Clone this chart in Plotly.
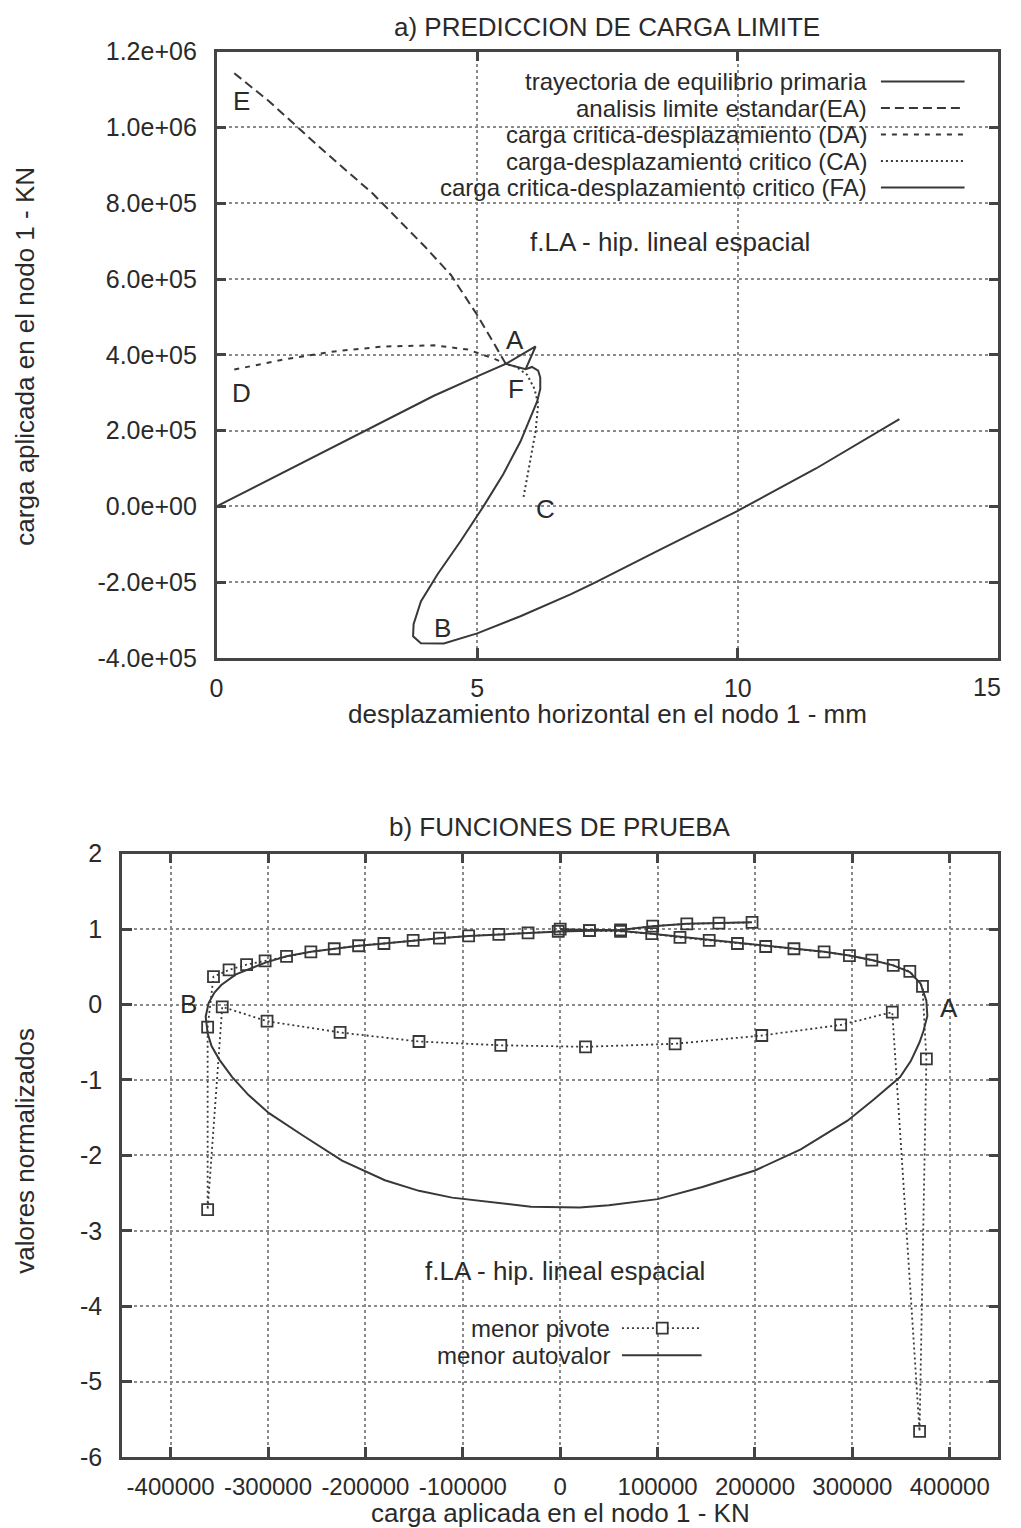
import plotly.graph_objects as go

# figure size and mapping from target picture pixels (x, y) to figure pixels
W, H = 1005, 1545
AX, SX = 4.6, 0.997
AY, SY = 12.3, 0.983

# ---------------- a) top chart data ----------------
prim_x = [0.0, 1.0, 2.0, 3.0, 4.17, 5.0, 5.55, 5.93, 6.05, 6.17, 6.21, 6.21, 6.15, 5.83, 5.5, 5.12,
          4.68, 4.24, 3.92, 3.78, 3.77, 3.92, 4.36, 5.0, 5.83, 6.79, 7.23, 8.5, 9.98, 11.5, 13.1]
prim_y = [0.0, 0.70e5, 1.40e5, 2.08e5, 2.92e5, 3.43e5, 3.76e5, 3.62e5, 3.68e5, 3.58e5, 3.40e5, 3.10e5,
          2.77e5, 1.71e5, 0.85e5, 0.0, -0.92e5, -1.79e5, -2.51e5, -3.11e5, -3.43e5, -3.61e5, -3.62e5,
          -3.35e5, -2.90e5, -2.32e5, -2.03e5, -1.15e5, -0.13e5, 1.0e5, 2.3e5]

ea_x = [0.34, 1.0, 2.0, 3.0, 3.5, 4.0, 4.5, 5.0, 5.3, 5.55]
ea_y = [1.143e6, 1.07e6, 9.45e5, 8.25e5, 7.55e5, 6.85e5, 6.1e5, 5.05e5, 4.35e5, 3.76e5]

da_x = [0.34, 1.3, 2.26, 3.21, 4.17, 4.82, 5.32, 5.55]
da_y = [3.61e5, 3.88e5, 4.09e5, 4.22e5, 4.25e5, 4.14e5, 3.90e5, 3.76e5]

ca_x = [5.89, 6.0, 6.12, 6.17, 6.10, 5.96, 5.75, 5.55]
ca_y = [0.25e5, 1.10e5, 1.98e5, 2.70e5, 3.10e5, 3.47e5, 3.68e5, 3.76e5]

fa_x = [5.93, 6.12, 5.55]
fa_y = [3.62e5, 4.22e5, 3.76e5]

top_yticks = [-4e5, -2e5, 0, 2e5, 4e5, 6e5, 8e5, 1e6, 1.2e6]
top_yticktext = ["-4.0e+05", "-2.0e+05", "0.0e+00", "2.0e+05", "4.0e+05",
                 "6.0e+05", "8.0e+05", "1.0e+06", "1.2e+06"]
top_xticks = [0, 5, 10, 15]
top_xticktext = ["0", "5", "10", ""]   # the last label ("15") is drawn at the right edge below

top_names = ["trayectoria de equilibrio primaria", "analisis limite estandar(EA)",
             "carga critica-desplazamiento (DA)", "carga-desplazamiento critico (CA)",
             "carga critica-desplazamiento critico (FA)"]

# ---------------- b) bottom chart data ----------------
piv_x = [0, 30000, 62000, 94000, 123000, 153000, 182000, 211000, 240000, 271000, 297000, 320000,
         342000, 359000, 372000, 376000, 369000, 341000, 288000, 207000, 118000, 26000, -61000,
         -145000, -226000, -301000, -347000, -362000, -362000, -356000, -340000, -322000, -303000,
         -281000, -256000, -232000, -207000, -181000, -151000, -124000, -94000, -63000, -33000,
         -2000, 30000, 62000, 95000, 130000, 163000, 197000]
piv_y = [1.0, 0.98, 0.97, 0.94, 0.89, 0.85, 0.81, 0.77, 0.74, 0.70, 0.65, 0.59, 0.52, 0.44, 0.24,
         -0.72, -5.66, -0.10, -0.27, -0.41, -0.52, -0.56, -0.54, -0.49, -0.37, -0.22, -0.03,
         -2.72, -0.30, 0.37, 0.46, 0.53, 0.58, 0.64, 0.70, 0.74, 0.78, 0.81, 0.85, 0.88, 0.91,
         0.93, 0.95, 0.97, 0.98, 0.99, 1.04, 1.07, 1.08, 1.09]

eig_x = [0, 60000, 94000, 123000, 156000, 186000, 215000, 244000, 271000, 297000, 320000, 342000,
         359000, 370000, 376000, 377000, 373000, 369000, 360000, 349000, 322000, 295000, 247000,
         200000, 146000, 100000, 50000, 20000, -30000, -111000, -145000, -180000, -224000, -265000,
         -299000, -320000, -337000, -350000, -358000, -362000, -364000, -361000, -355000, -348000,
         -333000, -302000, -281000, -256000, -232000, -207000, -181000, -151000, -124000, -94000,
         -63000, -33000, 0, 30000, 62000, 95000, 130000, 163000, 197000]
eig_y = [1.0, 0.98, 0.94, 0.90, 0.86, 0.82, 0.78, 0.74, 0.70, 0.65, 0.59, 0.52, 0.43, 0.28, 0.05,
         -0.15, -0.35, -0.50, -0.75, -0.96, -1.26, -1.54, -1.92, -2.20, -2.42, -2.58, -2.66, -2.69,
         -2.68, -2.56, -2.47, -2.33, -2.07, -1.73, -1.44, -1.20, -0.96, -0.73, -0.55, -0.38, -0.16,
         0.02, 0.16, 0.26, 0.40, 0.56, 0.64, 0.70, 0.74, 0.78, 0.81, 0.85, 0.88, 0.91, 0.93, 0.95,
         0.97, 0.98, 0.99, 1.04, 1.07, 1.08, 1.09]

bot_xticks = [-400000, -300000, -200000, -100000, 0, 100000, 200000, 300000, 400000]
bot_yticks = [-6, -5, -4, -3, -2, -1, 0, 1, 2]
bot_names = ["menor pivote", "menor autovalor"]

# ---------------- styling ----------------
LC = "#383838"
TXT = "#2a2a2a"
FONT = "Liberation Sans, Arial, Helvetica, sans-serif"
TICKF = 25
BXTICKF = 24
LABF = 26
LEGF = 24


def px(x):
    """target picture pixel x -> paper fraction"""
    return ((x - AX) / SX) / W


def py(y):
    """target picture pixel y -> paper fraction"""
    return 1 - ((y - AY) / SY) / H


fig = go.Figure()

fig.add_trace(go.Scatter(x=prim_x, y=prim_y, mode="lines", name=top_names[0],
                         line=dict(color=LC, width=2), xaxis="x", yaxis="y"))
fig.add_trace(go.Scatter(x=ea_x, y=ea_y, mode="lines", name=top_names[1],
                         line=dict(color=LC, width=2, dash="9px,5px"), xaxis="x", yaxis="y"))
fig.add_trace(go.Scatter(x=da_x, y=da_y, mode="lines", name=top_names[2],
                         line=dict(color=LC, width=2, dash="5px,6px"), xaxis="x", yaxis="y"))
fig.add_trace(go.Scatter(x=ca_x, y=ca_y, mode="lines", name=top_names[3],
                         line=dict(color=LC, width=2, dash="2px,3px"), xaxis="x", yaxis="y"))
fig.add_trace(go.Scatter(x=fa_x, y=fa_y, mode="lines", name=top_names[4],
                         line=dict(color=LC, width=2), xaxis="x", yaxis="y"))

fig.add_trace(go.Scatter(x=piv_x, y=piv_y, mode="lines+markers", name=bot_names[0],
                         line=dict(color=LC, width=1.8, dash="2px,3px"),
                         marker=dict(symbol="square-open", size=11, color=LC, line=dict(width=1.8)),
                         xaxis="x2", yaxis="y2"))
fig.add_trace(go.Scatter(x=eig_x, y=eig_y, mode="lines", name=bot_names[1],
                         line=dict(color=LC, width=2), xaxis="x2", yaxis="y2"))

axis_common = dict(showline=True, mirror="allticks", linecolor="#444", linewidth=2.5,
                   ticks="inside", ticklen=10, tickwidth=2.5, tickcolor="#444",
                   showgrid=True, gridcolor="#8a8a8a", gridwidth=1.6, griddash="dot",
                   zeroline=False)
tfont = dict(family=FONT, size=TICKF, color=TXT)

fig.update_layout(
    width=W, height=H, margin=dict(l=0, r=0, t=0, b=0),
    paper_bgcolor="white", plot_bgcolor="white", showlegend=False,
    font=dict(family=FONT, size=LABF, color=TXT),
    xaxis=dict(domain=[px(215), px(1000)], range=[0, 15], tickvals=top_xticks,
               ticktext=top_xticktext, anchor="y", tickfont=tfont, ticklabelstandoff=6,
               **axis_common),
    yaxis=dict(domain=[py(657), py(50)], range=[-4e5, 1.2e6], tickvals=top_yticks,
               ticktext=top_yticktext, anchor="x", tickfont=tfont, ticklabelstandoff=12,
               **axis_common),
    xaxis2=dict(domain=[px(120), px(1000)], range=[-450000, 450000], tickvals=bot_xticks,
                ticktext=[str(v) for v in bot_xticks], anchor="y2",
                tickfont=dict(family=FONT, size=BXTICKF, color=TXT),
                ticklabelstandoff=6, **axis_common),
    yaxis2=dict(domain=[py(1457), py(853)], range=[-6, 2], tickvals=bot_yticks,
                ticktext=[str(v) for v in bot_yticks], anchor="x2", tickfont=tfont,
                ticklabelstandoff=12, **axis_common),
)

ann = []


def paper_text(text, x, y, size=LABF, xanchor="center", angle=0):
    ann.append(dict(text=text, x=px(x), y=py(y), xref="paper", yref="paper", showarrow=False,
                    xanchor=xanchor, yanchor="middle", textangle=angle,
                    font=dict(family=FONT, size=size, color=TXT)))


paper_text("a) PREDICCION DE CARGA LIMITE", 607, 25)
paper_text("desplazamiento horizontal en el nodo 1 - mm", 607, 713)
paper_text("carga aplicada en el nodo 1 - KN", 23, 355, angle=-90)
paper_text("b) FUNCIONES DE PRUEBA", 560, 826)
paper_text("carga aplicada en el nodo 1 - KN", 560, 1513)
paper_text("valores normalizados", 23, 1150, angle=-90)
# last tick label of the top x axis, kept inside the figure's right edge
paper_text(str(top_xticks[-1]), 1005, 686, size=TICKF, xanchor="right")


def data_text(text, x, y, xr, yr):
    ann.append(dict(text=text, x=x, y=y, xref=xr, yref=yr, showarrow=False,
                    xanchor="center", yanchor="middle",
                    font=dict(family=FONT, size=LABF, color=TXT)))


for t, x, y in [("E", 0.48, 1.07e6), ("D", 0.48, 2.98e5), ("A", 5.72, 4.38e5),
                ("F", 5.74, 3.09e5), ("C", 6.31, -0.06e5), ("B", 4.34, -3.22e5)]:
    data_text(t, x, y, "x", "y")
data_text("f.LA - hip. lineal espacial", 8.7, 6.97e5, "x", "y")
data_text("B", -382000, 0.01, "x2", "y2")
data_text("A", 399000, -0.04, "x2", "y2")
data_text("f.LA - hip. lineal espacial", 5000, -3.53, "x2", "y2")

shapes = []
top_rows = [80, 106.5, 133, 159.5, 186]
top_dash = ["solid", "9px,5px", "5px,6px", "2px,3px", "solid"]
for name, yy, dsh in zip(top_names, top_rows, top_dash):
    paper_text(name, 870, yy, size=LEGF, xanchor="right")
    shapes.append(dict(type="line", xref="paper", yref="paper", x0=px(882), x1=px(966),
                       y0=py(yy), y1=py(yy), line=dict(color=LC, width=2, dash=dsh)))

bot_rows = [1328, 1355]
for name, yy in zip(bot_names, bot_rows):
    paper_text(name, 612, yy, size=LEGF, xanchor="right")
shapes.append(dict(type="line", xref="paper", yref="paper", x0=px(622), x1=px(702),
                   y0=py(bot_rows[0]), y1=py(bot_rows[0]), line=dict(color=LC, width=1.8, dash="2px,3px")))
shapes.append(dict(type="rect", xref="paper", yref="paper", x0=px(657), x1=px(668),
                   y0=py(bot_rows[0] + 5.5), y1=py(bot_rows[0] - 5.5), fillcolor="white",
                   line=dict(color=LC, width=1.8)))
shapes.append(dict(type="line", xref="paper", yref="paper", x0=px(622), x1=px(702),
                   y0=py(bot_rows[1]), y1=py(bot_rows[1]), line=dict(color=LC, width=2)))

fig.update_layout(annotations=ann, shapes=shapes)

fig.write_html("out.html")
